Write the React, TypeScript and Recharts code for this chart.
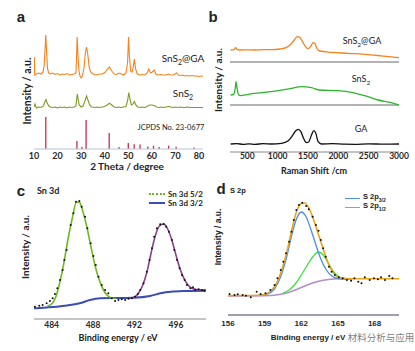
import React from "react";
import { ComposedChart, Line, Scatter, XAxis, YAxis, ReferenceLine } from "recharts";

// ---- panel a: XRD (2 theta, intensity) ----
const xrdTicks = [10, 20, 30, 40, 50, 60, 70, 80];
const xrdComposite: [number, number][] = [
  [10, 76], [10.15, 92], [10.3, 74], [11, 75], [12, 76], [13, 75], [13.8, 77], [14.3, 83], [14.7, 100], [15.0, 114],
  [15.3, 99], [15.7, 81], [16.2, 76], [17, 75], [18, 76], [19, 74.5], [20, 75.5], [21, 74], [22, 75], [23, 74.5],
  [24, 75.5], [25, 74], [26, 74.5], [27, 75], [27.8, 76], [28.1, 95], [28.3, 112], [28.6, 96], [29, 80], [29.5, 73],
  [30, 71], [30.5, 73], [31.2, 81], [31.8, 96], [32.3, 102], [32.8, 95], [33.4, 82], [34, 77], [35, 75], [36, 74],
  [37, 74.5], [38, 75], [39, 75], [40, 76.5], [41, 79.5], [42, 82], [43, 78], [44, 75], [45, 74.5], [46, 76],
  [47, 75], [48, 74], [49, 76], [49.7, 86], [50.1, 112], [50.5, 92], [51, 78], [51.6, 77], [52.1, 82], [52.6, 90],
  [53.1, 80], [53.8, 75], [55, 74], [56, 74.5], [57, 74], [58, 76], [58.7, 80], [59.4, 76], [60.2, 77], [61, 79],
  [61.7, 75], [62.5, 74], [64, 74.5], [65, 74], [66, 74], [67, 75], [68, 74], [69, 74], [70.5, 76], [71.2, 74],
  [72, 73.5], [73, 74], [74, 73], [75, 73.5], [76, 73], [77, 73.5], [78, 73], [79, 73], [80, 72.5], [81.7, 73],
];
const xrdSnS2: [number, number][] = [
  [10, 42], [10.4, 45], [11, 41], [12, 42], [13, 41.5], [14, 43], [14.6, 47], [15.1, 49.5], [15.6, 46], [16.3, 43],
  [17, 42], [18, 41.5], [19, 42], [20, 41], [21, 42], [22, 41.5], [23, 42], [24, 41], [25, 42], [26, 41.5],
  [27, 42], [27.8, 43], [28.1, 50], [28.4, 55], [28.7, 50], [29.2, 44], [30, 42], [30.8, 43], [31.6, 48], [32.3, 53],
  [32.9, 49], [33.6, 44], [34.5, 42], [36, 41.5], [37, 42], [38, 41.5], [39, 42], [40, 42.5], [41, 44], [42, 45.7],
  [43, 44], [44, 42], [45, 41.5], [46, 42], [47, 41.5], [48, 42], [49, 42.5], [49.7, 48], [50.2, 56.5], [50.7, 50],
  [51.3, 44], [52, 45], [52.6, 47.5], [53.2, 44], [54, 42], [55, 41.5], [56, 42], [57, 41.5], [58, 42.5], [59, 44],
  [60, 44], [61, 43.5], [62, 42], [63, 41.5], [64, 42], [65, 41.5], [66, 42], [67, 42.5], [68, 42], [69, 41.5],
  [70, 42], [71, 41.5], [72, 42], [73, 41.5], [74, 41.5], [75, 42], [76, 41.5], [77, 41.5], [78, 41.5], [79, 41.5],
  [80, 41.5], [81.7, 41.5],
];
// JCPDS No. 23-0677 reference lines: position, height
const jcpdsSticks: [number, number][] = [
  [15.0, 32], [28.2, 8], [30.3, 2], [32.1, 29], [41.9, 16], [46.1, 2], [50.0, 6], [52.5, 4.7], [55.0, 4.5],
  [58.3, 2.5], [60.7, 3.3], [63.1, 2], [67.1, 3.3], [70.3, 2.3], [77.9, 1.5],
];

// ---- panel b: Raman ----
const ramanTicks = [500, 1000, 1500, 2000, 2500, 3000];
const ramanComposite: [number, number][] = [
  [226, 102], [286, 102.7], [308, 104.3], [330, 102.7], [379, 102], [500, 102.2], [626, 102], [760, 102.3],
  [900, 102.3], [1037, 103], [1147, 104.7], [1218, 107.7], [1273, 112], [1328, 115.3], [1366, 114.7], [1410, 110.3],
  [1459, 105.3], [1503, 103.3], [1547, 106], [1586, 109.3], [1613, 108.7], [1646, 103.7], [1695, 101], [1887, 99.7],
  [2160, 98.7], [2435, 97.7], [2700, 96.2], [3000, 94.3],
];
const ramanSnS2: [number, number][] = [
  [226, 57], [275, 57.7], [303, 64.7], [314, 70.3], [330, 64.7], [352, 57.7], [385, 56.3], [516, 57.7], [736, 59.3],
  [1010, 61.3], [1229, 63.7], [1394, 65.3], [1558, 64.3], [1695, 62], [1997, 61.3], [2216, 59.7], [2435, 56.3],
  [2655, 52], [2874, 49.3], [3000, 47],
];
const ramanGA: [number, number][] = [
  [226, 8], [330, 8.3], [430, 7.7], [530, 8.2], [626, 7.7], [760, 8.3], [900, 8], [1065, 8.7], [1174, 11.3],
  [1240, 16], [1295, 21], [1339, 22.7], [1383, 20.3], [1427, 13.7], [1476, 9.3], [1514, 10.3], [1558, 17],
  [1597, 21.3], [1629, 18.7], [1668, 10.3], [1723, 8], [1900, 8.3], [2100, 7.8], [2271, 7.7], [2500, 8.2],
  [2750, 7.8], [3000, 8],
];
const ramanDividers = [47, 90];

// ---- panel c: Sn 3d ----
const sn3dTicks = [484, 488, 492, 496];
const sn3dPoints: [number, number][] = [
  [482.39, 12.3], [482.81, 13.3], [483.13, 14], [483.52, 15.7], [483.84, 18], [484.1, 20.7], [484.32, 25],
  [484.55, 30.7], [484.81, 39], [485.06, 49], [485.23, 59], [485.45, 69], [485.84, 94], [486.1, 105.7],
  [486.35, 117.3], [486.68, 118], [486.9, 112.3], [487.23, 102.3], [487.45, 90.7], [487.77, 75.7], [488.03, 63],
  [488.26, 54], [488.52, 42.3], [488.84, 34], [489.16, 29], [489.48, 25.7], [489.81, 20.7], [490.13, 18],
  [490.45, 19], [490.77, 19.7], [491.1, 19], [491.42, 20.3], [491.74, 20.7], [492.06, 22.3], [492.32, 25],
  [492.55, 29], [492.87, 35.7], [493.19, 47.3], [493.45, 59], [493.68, 70.7], [493.9, 82.3], [494.16, 90.7],
  [494.48, 94.7], [494.81, 95], [495.06, 92.3], [495.32, 87.3], [495.61, 79], [495.84, 69], [496.1, 59],
  [496.35, 50.7], [496.58, 44], [496.84, 39], [497.06, 34], [497.39, 30.7], [497.65, 31.7], [497.87, 29],
  [498.19, 29.7], [498.52, 29], [498.74, 28.3],
];
const sn3d52: [number, number][] = [
  [483.6, 13], [484, 15], [484.4, 22], [484.8, 37], [485.2, 57], [485.6, 81], [486, 101], [486.4, 117], [486.7, 116.5],
  [487, 108], [487.4, 92], [487.8, 72], [488.2, 53], [488.6, 39], [489, 29], [489.4, 23.5], [489.8, 21], [490.2, 20.5],
];
const sn3d32: [number, number][] = [
  [491.6, 21], [492, 22], [492.4, 26], [492.8, 34], [493.2, 47], [493.6, 66], [494, 83], [494.4, 93], [494.8, 95],
  [495.2, 90], [495.6, 79], [496, 64], [496.4, 50], [496.8, 40], [497.2, 33.5], [497.6, 30.5], [498, 29.5], [498.9, 29],
];
const sn3dBackground: [number, number][] = [
  [482.3, 10.7], [483.5, 11.5], [484.5, 12.3], [485.5, 13.5], [486.7, 15.7], [487.7, 19], [488.7, 20.7],
  [490, 21], [491.9, 21.3], [493.5, 23], [494.5, 25.7], [495.5, 27.3], [497, 28], [498.9, 28.3],
];

// ---- panel d: S 2p ----
const s2pTicks = [156, 159, 162, 165, 168];
const s2pPoints: [number, number][] = [
  [156.13, 21], [156.53, 20], [156.8, 20.7], [157.2, 20], [157.47, 19.3], [157.87, 17.7], [158.35, 23.3],
  [158.67, 21], [159.07, 21.7], [159.47, 25], [159.81, 30], [160.05, 36.7], [160.32, 45], [160.53, 53.3],
  [160.75, 61.7], [161.01, 73.3], [161.2, 83.3], [161.39, 95], [161.6, 105], [161.81, 110], [162.08, 112.3],
  [162.4, 109], [162.61, 105.7], [162.93, 98.3], [163.2, 90], [163.41, 84.3], [163.6, 75], [163.79, 66.7],
  [164.0, 58.3], [164.27, 48.3], [164.48, 43.3], [164.75, 40], [165.07, 37.7], [165.39, 36.7], [165.73, 35],
  [166.08, 34.3], [166.35, 36.7], [166.67, 33.3], [166.93, 31.7], [167.2, 37.7], [167.6, 35], [167.95, 36.7],
  [168.27, 35.7], [168.53, 37.7], [168.85, 35], [169.2, 39], [169.47, 36.7],
];
const s2pEnvelope: [number, number][] = [
  [156, 19.5], [157, 19.5], [158, 19.5], [158.8, 20], [159.4, 23], [159.9, 30], [160.4, 45], [160.8, 62],
  [161.2, 84], [161.6, 103], [162, 111.5], [162.3, 112], [162.7, 105], [163.1, 92], [163.5, 77], [163.9, 62],
  [164.3, 49], [164.7, 41], [165.1, 37.5], [165.6, 36.5], [166.5, 36.3], [170, 36.3],
];
const s2p32: [number, number][] = [
  [158.5, 19.8], [159.2, 21], [159.8, 26], [160.3, 38], [160.8, 58], [161.2, 79], [161.6, 96], [162, 103],
  [162.4, 98], [162.8, 85], [163.2, 70], [163.6, 56], [164, 46], [164.5, 39], [165, 36.5], [165.6, 36], [166.2, 36.2],
];
const s2p12: [number, number][] = [
  [160.5, 22], [161, 25], [161.5, 31], [162, 40], [162.5, 50], [163, 59], [163.4, 63], [163.8, 60], [164.2, 52],
  [164.6, 44], [165, 39], [165.5, 36.5], [166, 36.2],
];
const s2pBackground: [number, number][] = [
  [156, 19], [159.5, 19.5], [160.2, 20.5], [160.8, 22], [161.4, 24.5], [162, 27.5], [162.6, 30.5], [163.2, 33],
  [163.8, 34.8], [164.4, 35.8], [165, 36.2], [166, 36.3],
];

const toXY = (arr: [number, number][]) => arr.map(([x, y]) => ({ x, y }));

const FONT = "Lato, 'Liberation Sans', Arial, sans-serif";
const ARIAL = "'Liberation Sans', Arial, sans-serif";
const FRAME = "#8a8a8a";

const Txt = ({ x, y, size = 9, bold = false, rot = false, color = "#222", font = FONT, left = false, children }: any) => (
  <div
    style={{
      position: "absolute",
      left: x,
      top: y,
      fontSize: size,
      fontWeight: bold ? 700 : 400,
      fontFamily: font,
      color,
      whiteSpace: "nowrap",
      lineHeight: 1,
      transform: left ? "translate(0,-50%)" : rot ? "translate(-50%,-50%) rotate(-90deg)" : "translate(-50%,-50%)",
    }}
  >
    {children}
  </div>
);

const Dot = (props: any) => <circle cx={props.cx} cy={props.cy} r={1} fill="#111" />;

const tickStyle = (font: string, size = 9) => ({ fontSize: size, fill: "#2a2a2a", fontFamily: font, fontWeight: 700 });

export default function App() {
  return (
    <div style={{ position: "absolute", left: 0, top: 0, width: 415, height: 351, background: "#fff", overflow: "hidden" }}>
      {/* a */}
      <div style={{ position: "absolute", left: 0, top: 0 }}>
        <ComposedChart width={210} height={175} margin={{ top: 4, right: 7, left: 34, bottom: 5 }}>
          <XAxis type="number" dataKey="x" domain={[10, 81.7]} ticks={xrdTicks} allowDataOverflow height={21}
            tick={tickStyle(FONT)} tickSize={0} tickLine={false} tickMargin={4} axisLine={{ stroke: "#b8c4d8" }} />
          <XAxis xAxisId="top" orientation="top" type="number" dataKey="x" domain={[10, 81.7]} height={0}
            tick={false} tickLine={false} axisLine={{ stroke: FRAME }} />
          <YAxis type="number" domain={[0, 145]} width={0} tick={false} tickLine={false} axisLine={{ stroke: FRAME }} />
          <YAxis yAxisId="r" orientation="right" type="number" domain={[0, 145]} width={0} tick={false} tickLine={false}
            axisLine={{ stroke: FRAME }} />
          {jcpdsSticks.map(([p, h]) => (
            <ReferenceLine key={p} segment={[{ x: p, y: 0 }, { x: p, y: h }]} stroke="#c0304a" strokeWidth={1.3} />
          ))}
          <Line data={toXY(xrdComposite)} dataKey="y" stroke="#f5821f" strokeWidth={1.1} dot={false} isAnimationActive={false} />
          <Line data={toXY(xrdSnS2)} dataKey="y" stroke="#7f9b22" strokeWidth={1.1} dot={false} isAnimationActive={false} />
        </ComposedChart>
      </div>
      <Txt x={21} y={16} size={15} bold font={ARIAL}>a</Txt>
      <Txt x={27} y={91} size={10.5} bold rot>Intensity / a.u.</Txt>
      <Txt x={127} y={166} size={10} bold>2 Theta / degree</Txt>
      <Txt x={183} y={59} size={10}>SnS<sub style={{ fontSize: 7 }}>2</sub>@GA</Txt>
      <Txt x={183} y={94} size={10}>SnS<sub style={{ fontSize: 7 }}>2</sub></Txt>
      <Txt x={171} y={128} size={7.5}>JCPDS No. 23-0677</Txt>

      {/* b */}
      <div style={{ position: "absolute", left: 205, top: 0 }}>
        <ComposedChart width={210} height={175} margin={{ top: 4, right: 16, left: 25, bottom: 3 }}>
          <XAxis type="number" dataKey="x" domain={[215, 3000]} ticks={ramanTicks} allowDataOverflow height={20}
            tick={tickStyle(FONT, 8.5)} tickSize={0} tickLine={false} tickMargin={1} axisLine={{ stroke: FRAME }} />
          <XAxis xAxisId="top" orientation="top" type="number" dataKey="x" domain={[215, 3000]} height={0}
            tick={false} tickLine={false} axisLine={{ stroke: FRAME }} />
          <YAxis type="number" domain={[0, 148]} width={0} tick={false} tickLine={false} axisLine={{ stroke: FRAME }} />
          <YAxis yAxisId="r" orientation="right" type="number" domain={[0, 148]} width={0} tick={false} tickLine={false}
            axisLine={{ stroke: FRAME }} />
          {ramanDividers.map((d) => (
            <ReferenceLine key={d} y={d} stroke="#666" strokeWidth={1} />
          ))}
          <Line data={toXY(ramanComposite)} dataKey="y" type="monotone" stroke="#f5821f" strokeWidth={1.3} dot={false} isAnimationActive={false} />
          <Line data={toXY(ramanSnS2)} dataKey="y" type="monotone" stroke="#2db52d" strokeWidth={1.3} dot={false} isAnimationActive={false} />
          <Line data={toXY(ramanGA)} dataKey="y" type="monotone" stroke="#111" strokeWidth={1.3} dot={false} isAnimationActive={false} />
        </ComposedChart>
      </div>
      <Txt x={213} y={16} size={15} bold font={ARIAL}>b</Txt>
      <Txt x={218} y={80} size={10} bold rot>Intensity / a.u.</Txt>
      <Txt x={314} y={169.5} size={9} bold>Raman Shift /cm</Txt>
      <Txt x={362} y={42} size={9}>SnS<sub style={{ fontSize: 6.5 }}>2</sub>@GA</Txt>
      <Txt x={361} y={80} size={9}>SnS<sub style={{ fontSize: 6.5 }}>2</sub></Txt>
      <Txt x={361} y={128} size={9}>GA</Txt>

      {/* c */}
      <div style={{ position: "absolute", left: 0, top: 175 }}>
        <ComposedChart width={210} height={176} margin={{ top: 9, right: 4, left: 34, bottom: 12 }}>
          <XAxis type="number" dataKey="x" domain={[482.3, 498.9]} ticks={sn3dTicks} allowDataOverflow height={20}
            tick={tickStyle(FONT, 8.5)} tickSize={0} tickLine={false} tickMargin={3} axisLine={{ stroke: FRAME }} />
          <XAxis xAxisId="top" orientation="top" type="number" dataKey="x" domain={[482.3, 498.9]} height={0}
            tick={false} tickLine={false} axisLine={{ stroke: FRAME }} />
          <YAxis type="number" domain={[0, 135]} width={0} tick={false} tickLine={false} axisLine={{ stroke: FRAME }} />
          <YAxis yAxisId="r" orientation="right" type="number" domain={[0, 135]} width={0} tick={false} tickLine={false}
            axisLine={{ stroke: FRAME }} />
          <Line data={toXY(sn3dBackground)} dataKey="y" type="monotone" stroke="#3b4db3" strokeWidth={2} dot={false} isAnimationActive={false} />
          <Line data={toXY(sn3d52)} dataKey="y" type="monotone" stroke="#6fb81f" strokeWidth={1.6} dot={false} isAnimationActive={false} />
          <Line data={toXY(sn3d32)} dataKey="y" type="monotone" stroke="#8a3e86" strokeWidth={1.6} dot={false} isAnimationActive={false} />
          <Scatter data={toXY(sn3dPoints)} dataKey="y" shape={Dot} isAnimationActive={false} />
        </ComposedChart>
      </div>
      <Txt x={21} y={190} size={15} bold font={ARIAL}>c</Txt>
      <Txt x={37} y={190} size={9} bold left>Sn 3d</Txt>
      <Txt x={25} y={247} size={10} bold rot>Intensity / a.u.</Txt>
      <Txt x={118} y={337} size={9} bold>Binding energy / eV</Txt>
      <div style={{ position: "absolute", left: 149, top: 193, width: 16, borderTop: "2px dotted #6fb81f" }} />
      <Txt x={168} y={194} size={8} bold left>Sn 3d 5/2</Txt>
      <div style={{ position: "absolute", left: 149, top: 202, width: 16, borderTop: "2px solid #3b4db3" }} />
      <Txt x={168} y={203} size={8} bold left>Sn 3d 3/2</Txt>

      {/* d */}
      <div style={{ position: "absolute", left: 205, top: 175 }}>
        <ComposedChart width={210} height={176} margin={{ top: 9, right: 16, left: 23, bottom: 16 }}>
          <XAxis type="number" dataKey="x" domain={[156, 170]} ticks={s2pTicks} allowDataOverflow height={20}
            tick={tickStyle(ARIAL, 8)} tickSize={0} tickMargin={5} tickLine={false} axisLine={{ stroke: "#3a3f55" }} />
          <XAxis xAxisId="top" orientation="top" type="number" dataKey="x" domain={[156, 170]} height={0}
            tick={false} tickLine={false} axisLine={{ stroke: FRAME }} />
          <YAxis type="number" domain={[0, 131]} width={0} tick={false} tickLine={false} axisLine={{ stroke: FRAME }} />
          <YAxis yAxisId="r" orientation="right" type="number" domain={[0, 131]} width={0} tick={false} tickLine={false}
            axisLine={{ stroke: FRAME }} />
          <Line data={toXY(s2pBackground)} dataKey="y" type="monotone" stroke="#b48ccc" strokeWidth={1.5} dot={false} isAnimationActive={false} />
          <Line data={toXY(s2p12)} dataKey="y" type="monotone" stroke="#3ee23e" strokeWidth={1.3} dot={false} isAnimationActive={false} />
          <Line data={toXY(s2p32)} dataKey="y" type="monotone" stroke="#4a8fdc" strokeWidth={1.3} dot={false} isAnimationActive={false} />
          <Line data={toXY(s2pEnvelope)} dataKey="y" type="monotone" stroke="#e8a51c" strokeWidth={1.6} dot={false} isAnimationActive={false} />
          <Scatter data={toXY(s2pPoints)} dataKey="y" shape={Dot} isAnimationActive={false} />
        </ComposedChart>
      </div>
      <Txt x={221} y={188} size={15} bold font={ARIAL}>d</Txt>
      <Txt x={230} y={191} size={7.5} bold font={ARIAL} left>S 2p</Txt>
      <Txt x={218} y={237} size={8.5} bold font={ARIAL} rot>Intensity / a.u.</Txt>
      <Txt x={308} y={338} size={8} bold font={ARIAL}>Binding energy / eV</Txt>
      <div style={{ position: "absolute", left: 345, top: 198, width: 15, borderTop: "1.5px solid #4a8fdc" }} />
      <Txt x={363} y={198} size={7.5} bold font={ARIAL} left>S 2p<sub style={{ fontSize: 5 }}>3/2</sub></Txt>
      <div style={{ position: "absolute", left: 345, top: 207, width: 15, borderTop: "1.5px solid #3ee23e" }} />
      <Txt x={363} y={207} size={7.5} bold font={ARIAL} left>S 2p<sub style={{ fontSize: 5 }}>1/2</sub></Txt>
      <Txt x={381} y={338} size={9.5} color="rgba(110,110,110,0.9)" font="'Noto Sans CJK SC', sans-serif">材料分析与应用</Txt>
    </div>
  );
}
